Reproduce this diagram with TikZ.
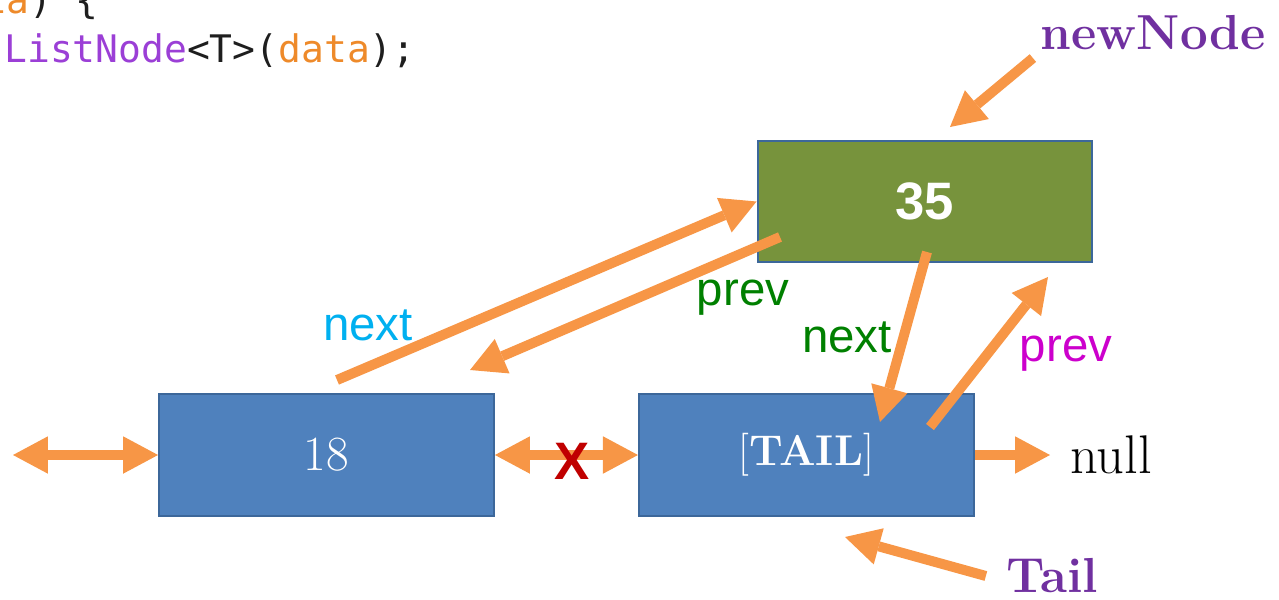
\documentclass[tikz,border=0pt]{standalone}
\usepackage{fontspec}
\setsansfont{Liberation Sans}
\setmonofont{DejaVu Sans Mono}
\usetikzlibrary{arrows.meta,positioning}
\definecolor{arrowOrange}{HTML}{F79646}
\definecolor{boxBlue}{HTML}{4F81BD}
\definecolor{boxGreen}{HTML}{77933C}
\definecolor{boxEdge}{HTML}{3C679A}
\definecolor{namePurple}{HTML}{7030A0}
\definecolor{nextBlue}{HTML}{00B0F0}
\definecolor{prevGreen}{HTML}{008000}
\definecolor{prevMagenta}{HTML}{CC00CC}
\definecolor{cutRed}{HTML}{C00000}
\definecolor{codePurple}{HTML}{9B3FD6}
\definecolor{codeOrange}{HTML}{EE8A2A}
\definecolor{codeDark}{HTML}{1E1E1E}
\tikzset{
  listbox/.style={draw=boxEdge, line width=0.04cm, fill=boxBlue, text=white,
    minimum width=6.7cm, minimum height=2.44cm, inner sep=0},
  ptr/.style={draw=arrowOrange, line width=0.2cm,
    -{Triangle[length=0.7cm,width=0.75cm,line width=0pt]}},
  dptr/.style={ptr, {Triangle[length=0.7cm,width=0.75cm,line width=0pt]}-{Triangle[length=0.7cm,width=0.75cm,line width=0pt]}},
  fieldlbl/.style={font=\sffamily\fontsize{27}{30}\selectfont, inner sep=0},
  varname/.style={font=\bfseries\fontsize{28}{32}\selectfont, text=namePurple},
  codeline/.style={anchor=base west, inner sep=0, text=codeDark,
    font=\ttfamily\fontsize{21.6}{26}\selectfont},
}

\begin{document}
\begin{tikzpicture}[x=0.02cm, y=-0.02cm]
  \clip (0,0) rectangle (1279,599);
  % code lines, cut at the edge
  \node[codeline] (codeA) at (-62,13) {\textcolor{codeOrange}{data}) \{};
  \node[codeline] (codeB) at (4,62)
    {\textcolor{codePurple}{ListNode}<T>(\textcolor{codeOrange}{data});};

  % list nodes
  \node[listbox, fill=boxGreen, font=\sffamily\bfseries\fontsize{30}{34}\selectfont] (n35) at (925,201.5) {35};
  \node[listbox, font=\fontsize{28}{32}\selectfont] (n18) at (326.5,455) {18};
  \node[listbox, right=2.86cm of n18, font=\fontsize{24.5}{28}\selectfont] (tail)
    {[{\bfseries\addfontfeature{FakeBold=2.5}TAIL}]};
  \node[anchor=west, inner xsep=0.4cm, inner ysep=0, font=\fontsize{31}{34}\selectfont] (null) at (1050,455) {null};

  % links along the list
  \coordinate (ends) at (13,455);
  \draw[dptr] (ends) -- (n18);
  \draw[dptr] (n18) -- (tail);
  \draw[ptr] (tail) -- (null);
  \node[font=\sffamily\bfseries\fontsize{30}{34}\selectfont, text=cutRed, inner sep=0] (cut) at (572,461) {X};

  % links to the new node
  \coordinate (nxA) at (337,380);
  \coordinate (pvA) at (780,237);
  \coordinate (pvB) at (470,370);
  \coordinate (nxB) at (927,252);
  \coordinate (nxC) at (880,422);
  \coordinate (pvC) at (930,427);
  \coordinate (pvD) at (1048,277);
  \draw[ptr] (nxA) -- (n35.west);
  \draw[ptr] (pvA) -- (pvB);
  \draw[ptr] (nxB) -- (nxC);
  \draw[ptr] (pvC) -- (pvD);
  \node[fieldlbl, text=nextBlue] (nextA) at (368,325) {next};
  \node[fieldlbl, text=prevGreen] (prevA) at (743,298) {prev};
  \node[fieldlbl, text=prevGreen] (nextB) at (847,337) {next};
  \node[fieldlbl, text=prevMagenta] (prevB) at (1066,354) {prev};

  % variable names
  \node[varname, inner sep=0.15cm] (newName) at (1153,33) {newNode};
  \node[varname, inner xsep=0.4cm, inner ysep=0] (tailName) at (1052,576) {Tail};
  \coordinate (nnTip) at (950,127);
  \coordinate (tlTip) at (845,537);
  \draw[ptr] (newName.south west) -- (nnTip);
  \draw[ptr] (tailName.west) -- (tlTip);
\end{tikzpicture}
\end{document}
